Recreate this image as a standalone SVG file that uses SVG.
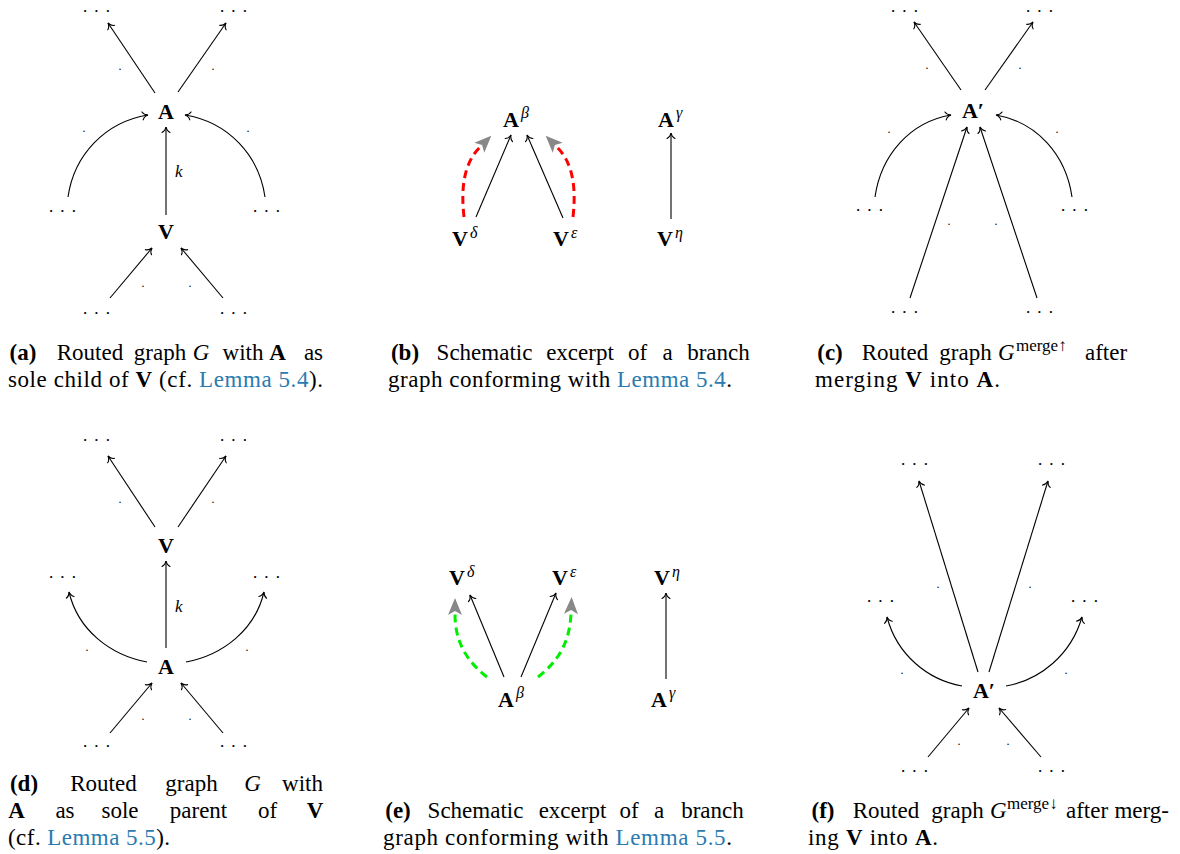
<svg xmlns="http://www.w3.org/2000/svg" width="1180" height="854" viewBox="0 0 1180 854">
<defs>
<style>
.lbl{font-family:"Liberation Serif",serif;font-weight:bold;font-size:22px;text-anchor:middle;fill:#000}
.lbs{font-family:"Liberation Serif",serif;font-weight:bold;font-size:22px;fill:#000}
.sup{font-family:"Liberation Serif",serif;font-style:italic;font-size:16px;fill:#000}
.dots{font-family:"Liberation Serif",serif;font-weight:bold;font-size:13px;letter-spacing:8.2px;fill:#000}
.el{font-family:"Liberation Serif",serif;font-size:12px;text-anchor:middle;fill:#000}
.k{font-family:"Liberation Serif",serif;font-style:italic;font-size:17px;fill:#000}
.cap{font-family:"Liberation Serif",serif;font-size:23px;fill:#000}
.w{text-anchor:middle}
.r{text-anchor:end}
.b{font-weight:bold}
.i{font-style:italic}
.lnk{fill:#2b7bb0}
.e{fill:none;stroke:#000;stroke-width:1.1;marker-end:url(#to)}
.red{fill:none;stroke:#ff0000;stroke-width:3;stroke-dasharray:8 5;marker-end:url(#gh)}
.grn{fill:none;stroke:#00ee00;stroke-width:3;stroke-dasharray:8 5;marker-end:url(#gh)}
</style>
<marker id="to" viewBox="-7 -5 8 10" markerWidth="8" markerHeight="10" refX="0" refY="0" orient="auto" markerUnits="userSpaceOnUse">
<path d="M-5.5,-4 C-4.5,-1.6 -1.8,-0.4 0,0 C-1.8,0.4 -4.5,1.6 -5.5,4" fill="none" stroke="#000" stroke-width="1.1" stroke-linecap="round"/>
</marker>
<marker id="gh" viewBox="0 -8 18 16" markerWidth="18" markerHeight="16" refX="1" refY="0" orient="auto" markerUnits="userSpaceOnUse">
<path d="M0,-7 L17,0 L0,7 L4,0 Z" fill="#888"/>
</marker>
</defs>

<!-- Panel (a) -->
<g id="a-A"><text class="lbl" x="166" y="119">A</text></g>
<g id="a-V"><text class="lbl" x="166" y="239">V</text></g>
<g id="a-d1"><text class="dots" x="83.4" y="12">...</text></g>
<g id="a-d2"><text class="dots" x="220.4" y="12">...</text></g>
<g id="a-d3"><text class="dots" x="49.4" y="212">...</text></g>
<g id="a-d4"><text class="dots" x="253.4" y="212">...</text></g>
<g id="a-d5"><text class="dots" x="83.4" y="314">...</text></g>
<g id="a-d6"><text class="dots" x="220.4" y="314">...</text></g>
<g id="a-edges">
<path class="e" d="M155,93 L108,23"/>
<path class="e" d="M178,92 L226,23"/>
<path class="e" d="M166,215 L166,127"/>
<path class="e" d="M68,197 C74,155 105,122 148,115"/>
<path class="e" d="M265,197 C259,155 228,122 185,115"/>
<path class="e" d="M110,298 L152,248"/>
<path class="e" d="M223,298 L181,248"/>
<text class="el" x="120" y="70">.</text>
<text class="el" x="213" y="70">.</text>
<text class="el" x="84" y="132">.</text>
<text class="el" x="248" y="132">.</text>
<text class="el" x="143" y="287">.</text>
<text class="el" x="190" y="287">.</text>
<text class="k" x="175" y="177">k</text>
</g>

<!-- Panel (b) -->
<g id="b-Abeta"><text class="lbs" x="503" y="127">A</text><text class="sup" x="521" y="118">β</text></g>
<g id="b-Agamma"><text class="lbs" x="658" y="127">A</text><text class="sup" x="676" y="118">γ</text></g>
<g id="b-Vdelta"><text class="lbs" x="452" y="246">V</text><text class="sup" x="470" y="238">δ</text></g>
<g id="b-Veps"><text class="lbs" x="553" y="246">V</text><text class="sup" x="571" y="238">ε</text></g>
<g id="b-Veta"><text class="lbs" x="657" y="246">V</text><text class="sup" x="675" y="238">η</text></g>
<g id="b-edges">
<path class="e" d="M476,217 L511,135"/>
<path class="e" d="M563,218 L527,135"/>
<path class="e" d="M671,219 L671,133"/>
<path class="red" d="M464,217 C461,190 463,164 480,147"/>
<path class="red" d="M573,217 C576,190 574,164 557,147"/>
</g>

<!-- Panel (c) -->
<g id="c-A"><text class="lbl" x="973" y="118">A′</text></g>
<g id="c-d1"><text class="dots" x="891.4" y="12">...</text></g>
<g id="c-d2"><text class="dots" x="1026.4" y="12">...</text></g>
<g id="c-d3"><text class="dots" x="856.4" y="211">...</text></g>
<g id="c-d4"><text class="dots" x="1061.4" y="211">...</text></g>
<g id="c-d5"><text class="dots" x="891.4" y="313">...</text></g>
<g id="c-d6"><text class="dots" x="1026.4" y="313">...</text></g>
<g id="c-edges">
<path class="e" d="M961,90 L914,22"/>
<path class="e" d="M985,90 L1033,22"/>
<path class="e" d="M875,197 C881,155 910,122 951,115"/>
<path class="e" d="M1072,197 C1066,155 1037,122 996,115"/>
<path class="e" d="M910,298 L967,127"/>
<path class="e" d="M1037,298 L980,127"/>
<text class="el" x="927" y="69">.</text>
<text class="el" x="1020" y="69">.</text>
<text class="el" x="889" y="133">.</text>
<text class="el" x="1057" y="133">.</text>
<text class="el" x="949" y="225">.</text>
<text class="el" x="996" y="225">.</text>
</g>

<!-- Panel (d) -->
<g id="d-V"><text class="lbl" x="166" y="553">V</text></g>
<g id="d-A"><text class="lbl" x="166" y="674">A</text></g>
<g id="d-d1"><text class="dots" x="83.4" y="441">...</text></g>
<g id="d-d2"><text class="dots" x="220.4" y="441">...</text></g>
<g id="d-d3"><text class="dots" x="49.4" y="578">...</text></g>
<g id="d-d4"><text class="dots" x="253.4" y="578">...</text></g>
<g id="d-d5"><text class="dots" x="83.4" y="747">...</text></g>
<g id="d-d6"><text class="dots" x="220.4" y="747">...</text></g>
<g id="d-edges">
<path class="e" d="M155,527 L108,456"/>
<path class="e" d="M178,527 L226,456"/>
<path class="e" d="M166,648 L166,561"/>
<path class="e" d="M147,662 C110,655 78,630 69,592"/>
<path class="e" d="M186,662 C223,655 255,630 264,592"/>
<path class="e" d="M110,733 L152,683"/>
<path class="e" d="M223,733 L181,683"/>
<text class="el" x="120" y="503">.</text>
<text class="el" x="213" y="503">.</text>
<text class="el" x="87" y="651">.</text>
<text class="el" x="247" y="651">.</text>
<text class="el" x="143" y="720">.</text>
<text class="el" x="190" y="720">.</text>
<text class="k" x="175" y="612">k</text>
</g>

<!-- Panel (e) -->
<g id="e-Vdelta"><text class="lbs" x="449" y="585">V</text><text class="sup" x="467" y="577">δ</text></g>
<g id="e-Veps"><text class="lbs" x="552" y="585">V</text><text class="sup" x="570" y="577">ε</text></g>
<g id="e-Veta"><text class="lbs" x="654" y="585">V</text><text class="sup" x="672" y="577">η</text></g>
<g id="e-Abeta"><text class="lbs" x="498" y="707">A</text><text class="sup" x="516" y="698">β</text></g>
<g id="e-Agamma"><text class="lbs" x="651" y="707">A</text><text class="sup" x="669" y="698">γ</text></g>
<g id="e-edges">
<path class="e" d="M504,677 L470,595"/>
<path class="e" d="M521,677 L556,593"/>
<path class="e" d="M666,679 L666,593"/>
<path class="grn" d="M487,677 C465,660 455,640 455,614"/>
<path class="grn" d="M538,677 C560,660 570,640 571,613"/>
</g>

<!-- Panel (f) -->
<g id="f-A"><text class="lbl" x="984" y="698">A′</text></g>
<g id="f-d1"><text class="dots" x="901.4" y="465">...</text></g>
<g id="f-d2"><text class="dots" x="1038.4" y="465">...</text></g>
<g id="f-d3"><text class="dots" x="867.4" y="602">...</text></g>
<g id="f-d4"><text class="dots" x="1071.4" y="602">...</text></g>
<g id="f-d5"><text class="dots" x="901.4" y="772">...</text></g>
<g id="f-d6"><text class="dots" x="1038.4" y="772">...</text></g>
<g id="f-edges">
<path class="e" d="M978,672 L919,481"/>
<path class="e" d="M989,672 L1048,481"/>
<path class="e" d="M962,686 C928,680 897,655 887,617"/>
<path class="e" d="M1006,686 C1040,680 1071,655 1082,617"/>
<path class="e" d="M928,757 L969,708"/>
<path class="e" d="M1041,757 L999,708"/>
<text class="el" x="938" y="588">.</text>
<text class="el" x="1030" y="588">.</text>
<text class="el" x="902" y="674">.</text>
<text class="el" x="1066" y="674">.</text>
<text class="el" x="959" y="745">.</text>
<text class="el" x="1008" y="745">.</text>
</g>

<!-- Captions -->
<g id="cap-a" class="cap">
<text class="w b" x="23" y="360">(a)</text>
<text class="w" x="90" y="360">Routed</text>
<text class="w" x="160" y="360">graph</text>
<text class="w i" x="201" y="360">G</text>
<text class="w" x="243" y="360">with</text>
<text class="w b" x="277.5" y="360">A</text>
<text class="w" x="313.5" y="360">as</text>
<text x="8" y="387" textLength="315" lengthAdjust="spacing">sole child of <tspan class="b">V</tspan> (cf. <tspan class="lnk">Lemma 5.4</tspan>).</text>
</g>
<g id="cap-b" class="cap">
<text class="w b" x="405" y="360">(b)</text>
<text class="w" x="484.5" y="360">Schematic</text>
<text class="w" x="580" y="360">excerpt</text>
<text class="w" x="637.5" y="360">of</text>
<text class="w" x="667.5" y="360">a</text>
<text class="w" x="718.5" y="360">branch</text>
<text x="388" y="387" textLength="344" lengthAdjust="spacing">graph conforming with <tspan class="lnk">Lemma 5.4</tspan>.</text>
</g>
<g id="cap-c" class="cap">
<text class="w b" x="830" y="360">(c)</text>
<text class="w" x="895" y="360">Routed</text>
<text class="w" x="965.5" y="360">graph</text>
<text class="i" x="998" y="360">G</text>
<text x="1016" y="351" font-size="17">merge↑</text>
<text class="w" x="1106" y="360">after</text>
<text x="815" y="387" textLength="185" lengthAdjust="spacing">merging <tspan class="b">V</tspan> into <tspan class="b">A</tspan>.</text>
</g>
<g id="cap-d" class="cap">
<text class="w b" x="24" y="791">(d)</text>
<text class="w" x="103.5" y="791">Routed</text>
<text class="w" x="191.5" y="791">graph</text>
<text class="w i" x="252.5" y="791">G</text>
<text class="w" x="302.5" y="791">with</text>
<text class="w b" x="16.5" y="818">A</text>
<text class="w" x="65" y="818">as</text>
<text class="w" x="120" y="818">sole</text>
<text class="w" x="198.5" y="818">parent</text>
<text class="w" x="267.5" y="818">of</text>
<text class="w b" x="315" y="818">V</text>
<text x="8" y="845" textLength="162" lengthAdjust="spacing">(cf. <tspan class="lnk">Lemma 5.5</tspan>).</text>
</g>
<g id="cap-e" class="cap">
<text class="w b" x="398" y="818">(e)</text>
<text class="w" x="475.5" y="818">Schematic</text>
<text class="w" x="572.5" y="818">excerpt</text>
<text class="w" x="629" y="818">of</text>
<text class="w" x="659" y="818">a</text>
<text class="w" x="712.5" y="818">branch</text>
<text x="383" y="845" textLength="349" lengthAdjust="spacing">graph conforming with <tspan class="lnk">Lemma 5.5</tspan>.</text>
</g>
<g id="cap-f" class="cap">
<text class="w b" x="823" y="818">(f)</text>
<text class="w" x="886" y="818">Routed</text>
<text class="w" x="957.5" y="818">graph</text>
<text class="i" x="990" y="818">G</text>
<text x="1007" y="809" font-size="17">merge↓</text>
<text class="w" x="1087" y="818">after</text>
<text class="r" x="1169" y="818">merg-</text>
<text x="808" y="845" textLength="130" lengthAdjust="spacing">ing <tspan class="b">V</tspan> into <tspan class="b">A</tspan>.</text>
</g>
</svg>
